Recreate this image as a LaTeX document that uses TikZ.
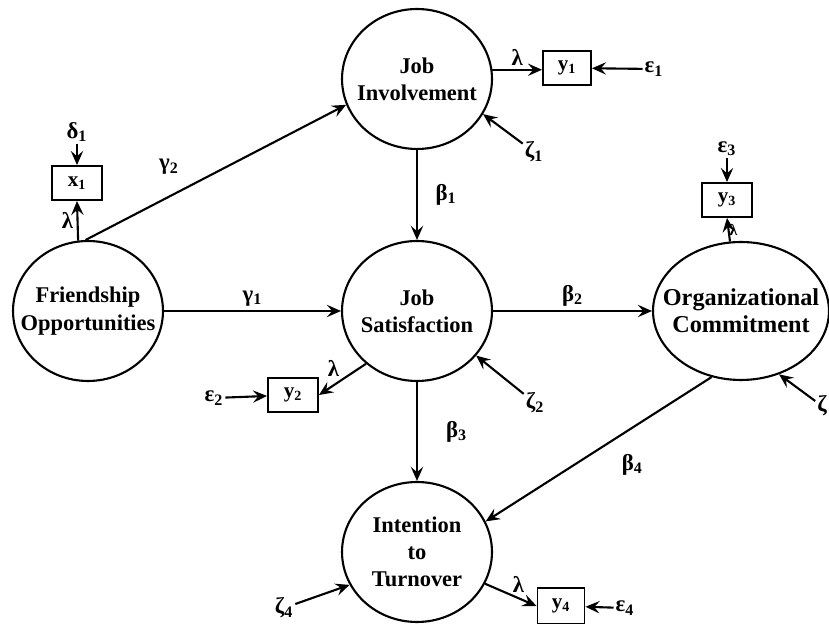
\documentclass[tikz,border=0pt]{standalone}
\usepackage{fontspec}
\setmainfont{Liberation Serif}
\usetikzlibrary{positioning, shapes, arrows.meta, calc}

\tikzset{
  latent/.style={ellipse, draw, line width=1.2pt, minimum width=3cm, minimum height=2.8cm, inner sep=0pt},
  lattext/.style={align=center, inner sep=0pt, font=\fontsize{12.8}{15.5}\selectfont\bfseries},
  obs/.style={rectangle, draw, line width=1.1pt, minimum width=1cm, minimum height=0.68cm, inner sep=0pt, font=\fontsize{12}{14}\selectfont\bfseries},
  err/.style={inner sep=1pt, font=\fontsize{13}{14}\selectfont\bfseries},
  coef/.style={inner sep=2pt, font=\fontsize{13}{14}\selectfont\bfseries},
  arr/.style={-{Stealth[length=8pt,width=7pt,inset=3pt]}, line width=1.2pt},
}

\begin{document}
\begin{tikzpicture}[x=0.02cm, y=-0.02cm]
  \useasboundingbox (0,0) rectangle (829,624);

  % latent variables
  \node[latent] (fo) at (88,311) {};
  \node[latent] (ji) at (417,79) {};
  \node[latent] (js) at (417,311) {};
  \node[latent, minimum width=3.52cm, minimum height=2.76cm] (oc) at (741,311) {};
  \node[latent] (it) at (417,552) {};

  \node[lattext] (fo-t) at (fo) {Friendship\\Opportunities};
  \node[lattext] (ji-t) at (ji) {Job\\Involvement};
  \node[lattext] (js-t) at (js) {Job\\Satisfaction};
  \node[lattext, font=\fontsize{13.8}{15.5}\selectfont\bfseries] (oc-t) at (oc) {Organizational\\Commitment};
  \node[lattext] (it-t) at (it) {Intention\\to\\Turnover};

  % indicators
  \node[obs] (x1) at (77,183) {x\textsubscript{1}};
  \node[obs, minimum width=0.96cm] (y1) at (567,68) {y\textsubscript{1}};
  \node[obs] (y2) at (293,395) {y\textsubscript{2}};
  \node[obs] (y3) at (727,200) {y\textsubscript{3}};
  \node[obs, minimum width=0.94cm, minimum height=0.72cm] (y4) at (561,606) {y\textsubscript{4}};

  % error terms
  \node[err] (d1) at (77,132) {δ\textsubscript{1}};
  \node[err] (e1) at (654,69) {ε\textsubscript{1}};
  \node[err] (e2) at (214,398) {ε\textsubscript{2}};
  \node[err] (e3) at (727,149) {ε\textsubscript{3}};
  \node[err] (e4) at (625,608) {ε\textsubscript{4}};
  \node[err] (z1) at (534,152) {ζ\textsubscript{1}};
  \node[err] (z2) at (535,403) {ζ\textsubscript{2}};
  \node[err] (z3) at (822,406) {ζ};
  \node[err] (z4) at (284,608) {ζ\textsubscript{4}};

  \foreach \e/\b in {d1/x1, e1/y1, e2/y2, e3/y3, e4/y4} {
    \draw[arr] (\e) -- (\b);
  }

  % disturbances
  \draw[arr] (z1) -- (ji.-28);
  \draw[arr] (z2) -- (js.-37);
  \draw[arr] (z3) -- (oc.-59);
  \draw[arr] (z4) -- (it.206);

  % loadings
  \draw[arr] (fo.98) -- (x1.south) node[coef, midway, left] {λ};
  \draw[arr] (ji.7) -- (ji.7 -| y1.west) node[coef, midway, above] {λ};
  \draw[arr] (js.226) -- (y2.east) node[coef, midway, above left=-1pt] {λ};
  \draw[arr] (oc.99) -- (y3.south) node[coef, midway, right=-2pt, font=\fontsize{9}{10}\selectfont\bfseries] {λ};
  \draw[arr] (it.-25) -- (y4.west) node[coef, midway, above right=-2pt] {λ};

  % structural paths
  \draw[arr] (fo.92) -- (ji.200) node[coef, pos=0.32, above=10pt] {γ\textsubscript{2}};
  \draw[arr] (fo) -- (js) node[coef, midway, above] {γ\textsubscript{1}};
  \draw[arr] (ji) -- (js) node[coef, midway, right=8pt] {β\textsubscript{1}};
  \draw[arr] (js) -- (oc) node[coef, midway, above] {β\textsubscript{2}};
  \draw[arr] (js) -- (it) node[coef, midway, right=14pt] {β\textsubscript{3}};
  \draw[arr] (oc.246) -- (it.24) node[coef, pos=0.45, below right=6pt] {β\textsubscript{4}};
\end{tikzpicture}
\end{document}
